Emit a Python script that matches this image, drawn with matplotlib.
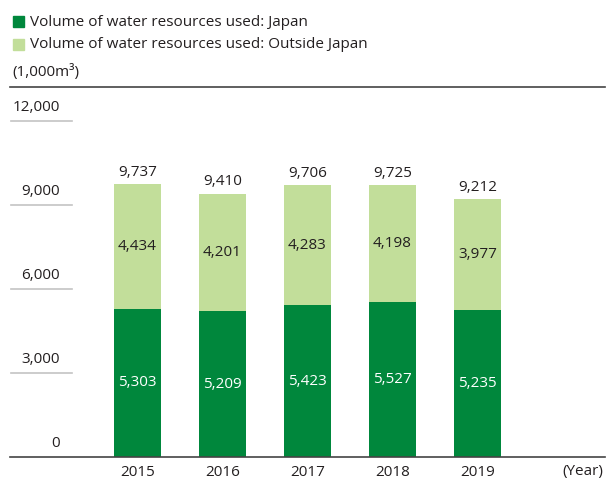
import matplotlib
matplotlib.use("Agg")
import matplotlib.pyplot as plt
from matplotlib.lines import Line2D
from matplotlib.patches import Rectangle
import matplotlib.transforms as mtransforms

years = ["2015", "2016", "2017", "2018", "2019"]
japan = [5303, 5209, 5423, 5527, 5235]
outside = [4434, 4201, 4283, 4198, 3977]
totals = [9737, 9410, 9706, 9725, 9212]
yticks = [0, 3000, 6000, 9000, 12000]
ytick_labels = ["0", "3,000", "6,000", "9,000", "12,000"]
legend_labels = ["Volume of water resources used: Japan",
                 "Volume of water resources used: Outside Japan"]
unit_label = "(1,000m³)"
year_label = "(Year)"

DARK = "#00873C"
LIGHT = "#C2DE9A"
TXT = "#231F20"
FONT = "Open Sans"
plt.rcParams['font.family'] = [FONT, 'DejaVu Sans']

W, H = 613, 480
fig = plt.figure(figsize=(W/100, H/100), dpi=100)
ax = fig.add_axes([10/W, (H-457)/H, 595/W, (457-121)/H])
x = list(range(len(years)))
ax.set_xlim(-1.5, 5.5)
ax.set_ylim(0, 12000)

bw = 0.55
ax.bar(x, japan, width=bw, color=DARK, zorder=2)
ax.bar(x, outside, width=bw, bottom=japan, color=LIGHT, zorder=2)

fs = 11
for i in x:
    ax.text(i, japan[i]/2, f"{japan[i]:,}", ha="center", va="center",
            color="white", fontsize=fs, zorder=3)
    ax.text(i, japan[i] + outside[i]/2, f"{outside[i]:,}", ha="center",
            va="center", color=TXT, fontsize=fs, zorder=3)
    ax.annotate(f"{totals[i]:,}", (i, totals[i]), xytext=(0, 3),
                textcoords="offset points", ha="center", va="bottom",
                color=TXT, fontsize=fs)

# short gridlines with labels
trans = mtransforms.blended_transform_factory(ax.transAxes, ax.transData)
gx1 = (72-10)/595
lx = (60-10)/595
for v, lab in zip(yticks, ytick_labels):
    if v != 0:
        ax.plot([0.002, gx1], [v, v], transform=trans, color="#C4C4C4",
                lw=1.2, clip_on=False, zorder=1)
    ax.annotate(lab, (lx, v), xycoords=trans, xytext=(0, 4),
                textcoords="offset points", ha="right", va="bottom",
                color=TXT, fontsize=fs)

for s in ["top", "left", "right"]:
    ax.spines[s].set_visible(False)
ax.spines["bottom"].set_color("#444444")
ax.spines["bottom"].set_linewidth(1.2)
ax.set_yticks([])
ax.set_xticks(x)
ax.set_xticklabels(years, fontsize=fs, color=TXT)
ax.tick_params(axis="x", length=0, pad=6)
fig.text(603/W, 1-471/H, year_label, ha="right", va="center", fontsize=fs, color=TXT)

# top rule
fig.add_artist(Line2D([10/W, 605/W], [1-87/H, 1-87/H], color="#444444", lw=1.2))

# legend
for j, (lab, col) in enumerate(zip(legend_labels, [DARK, LIGHT])):
    yc = 22 + j*23
    fig.add_artist(Rectangle((13/W, 1-(yc+5)/H), 11/W, 11/H, color=col,
                             transform=fig.transFigure))
    fig.text(30/W, 1-yc/H, lab, ha="left", va="center", fontsize=fs, color=TXT)
fig.text(12/W, 1-72/H, unit_label, ha="left", va="center", fontsize=fs, color=TXT)

fig.savefig("out.png", dpi=100, facecolor="white")
